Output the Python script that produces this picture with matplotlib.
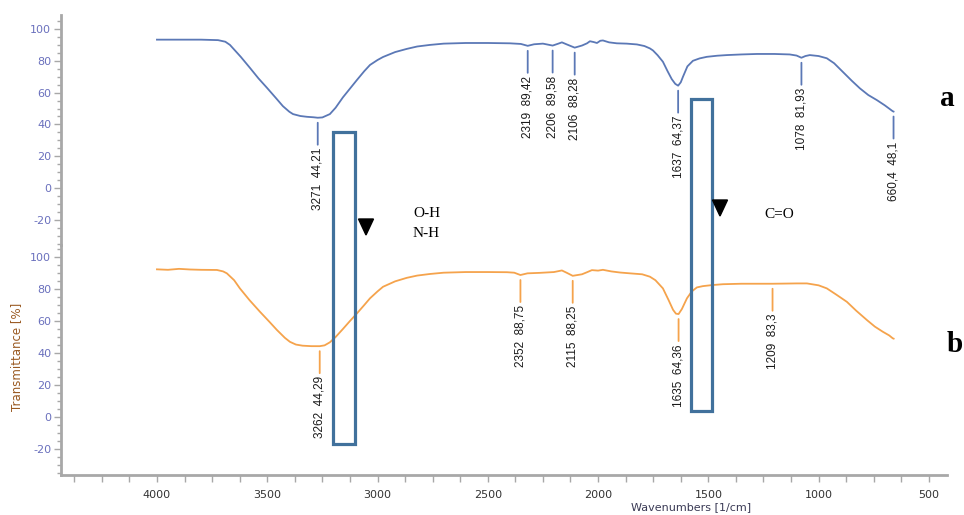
import matplotlib
matplotlib.use("Agg")
import matplotlib.pyplot as plt
from matplotlib.ticker import MultipleLocator
from matplotlib.patches import Rectangle, Polygon

plt.rcParams['axes.unicode_minus'] = False

# ---------------- data ----------------
wn_a = [4000, 3900, 3800, 3723, 3690, 3669, 3620, 3578, 3540, 3501, 3460, 3429, 3400, 3383,
        3350, 3320, 3290, 3271, 3250, 3216, 3190, 3157, 3125, 3093, 3060, 3034, 3000, 2975,
        2920, 2867, 2820, 2762, 2700, 2600, 2500, 2400, 2350, 2319, 2290, 2250, 2206, 2180,
        2164, 2140, 2106, 2073, 2050, 2037, 2020, 2005, 1990, 1978, 1950, 1915, 1870, 1824,
        1790, 1765, 1751, 1730, 1706, 1685, 1666, 1650, 1637, 1625, 1615, 1595, 1570, 1540,
        1507, 1460, 1416, 1350, 1280, 1200, 1131, 1100, 1078, 1060, 1040, 1000, 963, 930,
        890, 850, 813, 775, 736, 700, 664, 660.4]
T_a = [93.3, 93.3, 93.3, 93.0, 92.0, 90.0, 82.5, 75.5, 69.0, 63.0, 56.5, 51.5, 48.0, 46.5,
       45.3, 44.8, 44.5, 44.21, 44.4, 46.5, 50.5, 57.0, 62.5, 68.0, 73.5, 77.4, 80.5, 82.4,
       85.5, 87.5, 89.0, 90.0, 90.8, 91.2, 91.2, 91.0, 90.6, 89.42, 90.4, 90.8, 89.58, 90.8,
       91.6, 90.2, 88.28, 89.6, 91.0, 92.3, 91.8, 91.2, 92.6, 92.8, 91.6, 91.0, 90.8, 90.3,
       89.3, 87.8, 86.5, 83.5, 79.4, 73.5, 68.5, 65.5, 64.37, 66.5, 70.0, 76.5, 80.0, 81.5,
       82.5, 83.2, 83.6, 84.0, 84.3, 84.3, 84.0, 83.3, 81.93, 83.0, 83.6, 83.0, 81.6, 78.5,
       73.0, 67.5, 62.7, 58.5, 55.3, 52.0, 48.3, 48.1]

wn_b = [4000, 3950, 3900, 3850, 3800, 3728, 3700, 3683, 3650, 3624, 3580, 3533, 3490, 3456,
        3420, 3397, 3370, 3340, 3300, 3262, 3240, 3216, 3190, 3157, 3125, 3093, 3060, 3034,
        3000, 2975, 2920, 2867, 2820, 2762, 2700, 2600, 2500, 2413, 2380, 2352, 2320, 2264,
        2200, 2164, 2140, 2115, 2073, 2050, 2028, 2000, 1978, 1940, 1900, 1856, 1800, 1765,
        1740, 1706, 1680, 1660, 1647, 1635, 1620, 1597, 1575, 1552, 1525, 1480, 1434, 1350,
        1280, 1209, 1150, 1100, 1053, 1000, 963, 920, 872, 830, 781, 745, 709, 680, 664, 660]
T_b = [92.3, 92.0, 92.6, 92.2, 92.0, 91.9, 91.0, 89.8, 85.5, 80.4, 73.0, 65.8, 59.5, 54.4,
       49.5, 47.0, 45.3, 44.6, 44.3, 44.29, 44.8, 46.7, 50.0, 55.0, 60.0, 64.8, 70.0, 74.2,
       78.5, 81.4, 84.8, 87.0, 88.4, 89.4, 90.2, 90.6, 90.6, 90.5, 90.2, 88.75, 89.8, 90.1,
       90.6, 91.6, 90.0, 88.25, 89.2, 90.5, 91.8, 91.5, 92.0, 91.0, 90.3, 89.8, 89.2, 87.7,
       85.5, 80.4, 73.0, 67.0, 64.6, 64.36, 67.5, 74.2, 78.5, 81.0, 81.8, 82.5, 83.0, 83.3,
       83.3, 83.3, 83.4, 83.5, 83.5, 82.3, 80.4, 76.5, 72.0, 66.5, 60.6, 56.5, 53.3, 51.0,
       49.2, 49.0]

peaks_a_wn = [3271, 2319, 2206, 2106, 1637, 1078, 660.4]
peaks_a_T = [44.21, 89.42, 89.58, 88.28, 64.37, 81.93, 48.1]
peaks_b_wn = [3262, 2352, 2115, 1635, 1209]
peaks_b_T = [44.29, 88.75, 88.25, 64.36, 83.3]

y_ticks = [-20, 0, 20, 40, 60, 80, 100]
x_ticks = [4000, 3500, 3000, 2500, 2000, 1500, 1000, 500]

# ---------------- style ----------------
W, H = 964, 515
col_a = '#5b78b6'
col_b = '#f5a34c'
spine_col = '#a8a8a8'
ytick_col = '#6a70bd'
box_col = '#41719c'

def fx(x):
    return x / W

def fy(y):
    return 1 - y / H

fig = plt.figure(figsize=(W / 100, H / 100), dpi=100)
left, right = 61, 947
ax_top = fig.add_axes([fx(left), fy(245), (right - left) / W, 230 / H])
ax_bot = fig.add_axes([fx(left), fy(475), (right - left) / W, 230 / H], sharex=ax_top)

ax_top.plot(wn_a, T_a, color=col_a, lw=1.3)
ax_bot.plot(wn_b, T_b, color=col_b, lw=1.3)

ax_top.set_xlim(4435, 418)
ax_top.set_ylim(-35.8, 108.8)
ax_bot.set_ylim(-36.2, 107.5)

def fmt(v):
    return f"{v:g}".replace('.', ',')

def label_peaks(ax, wns, Ts, color):
    for w, t in zip(wns, Ts):
        ax.annotate('', xy=(w, t), xycoords='data', xytext=(0, -27 * 0.72),
                    textcoords='offset points',
                    arrowprops=dict(arrowstyle='-', color=color, lw=1.3,
                                    shrinkA=0, shrinkB=5 * 0.72))
        ax.annotate(fmt(w) + "  " + fmt(t), xy=(w, t), xycoords='data',
                    xytext=(0, -30 * 0.72), textcoords='offset points',
                    rotation=90, ha='center', va='top', fontsize=8.5,
                    family='Liberation Sans', color='#1a1a1a')

label_peaks(ax_top, peaks_a_wn, peaks_a_T, col_a)
label_peaks(ax_bot, peaks_b_wn, peaks_b_T, col_b)

for ax in (ax_top, ax_bot):
    ax.set_facecolor('none')
    for s in ('top', 'right'):
        ax.spines[s].set_visible(False)
    ax.spines['left'].set_color(spine_col)
    ax.spines['left'].set_linewidth(2)
    ax.spines['bottom'].set_color(spine_col)
    ax.spines['bottom'].set_linewidth(2)
    ax.yaxis.set_major_locator(plt.FixedLocator(y_ticks))
    ax.yaxis.set_minor_locator(MultipleLocator(5))
    ax.tick_params(axis='y', which='major', length=5, width=1, color=spine_col,
                   labelsize=8, labelcolor=ytick_col, pad=2)
    ax.tick_params(axis='y', which='minor', length=3, width=1, color=spine_col)

ax_top.spines['bottom'].set_visible(False)
ax_top.tick_params(axis='x', which='both', bottom=False, labelbottom=False)
ax_bot.xaxis.set_major_locator(plt.FixedLocator(x_ticks))
ax_bot.xaxis.set_minor_locator(MultipleLocator(125))
ax_bot.tick_params(axis='x', which='both', length=5, width=1, color=spine_col,
                   labelsize=8, labelcolor='#333333', pad=6)

fig.text(fx(691), fy(507), 'Wavenumbers [1/cm]', ha='center', va='center',
         fontsize=8, color='#3a3a55')
fig.text(fx(17), fy(357), 'Transmittance [%]', ha='center', va='center',
         rotation=90, fontsize=8.5, color='#9a5a22')

# overlay annotations
for (x0, y0, x1, y1) in [(333, 132, 355, 444), (691, 99, 712, 411)]:
    fig.add_artist(Rectangle((fx(x0), fy(y1)), (x1 - x0) / W, (y1 - y0) / H,
                             transform=fig.transFigure, fill=False,
                             ec=box_col, lw=2.3, zorder=10))
for (cx, cy) in [(366, 227), (720, 208)]:
    fig.add_artist(Polygon([(fx(cx - 7.5), fy(cy - 8)), (fx(cx + 7.5), fy(cy - 8)),
                            (fx(cx), fy(cy + 8))], closed=True,
                           transform=fig.transFigure, fc='black', ec='black', zorder=10))

serif = 'Liberation Serif'
fig.text(fx(413), fy(213), 'O-H', ha='left', va='center', fontsize=11, family=serif)
fig.text(fx(413), fy(233), 'N-H', ha='left', va='center', fontsize=11, family=serif)
fig.text(fx(764), fy(214), 'C=O', ha='left', va='center', fontsize=11, family=serif)
fig.text(fx(947), fy(99), 'a', ha='center', va='center', fontsize=21, family=serif,
         weight='bold')
fig.text(fx(955), fy(345), 'b', ha='center', va='center', fontsize=21, family=serif,
         weight='bold')

fig.savefig('out.png', dpi=100)
